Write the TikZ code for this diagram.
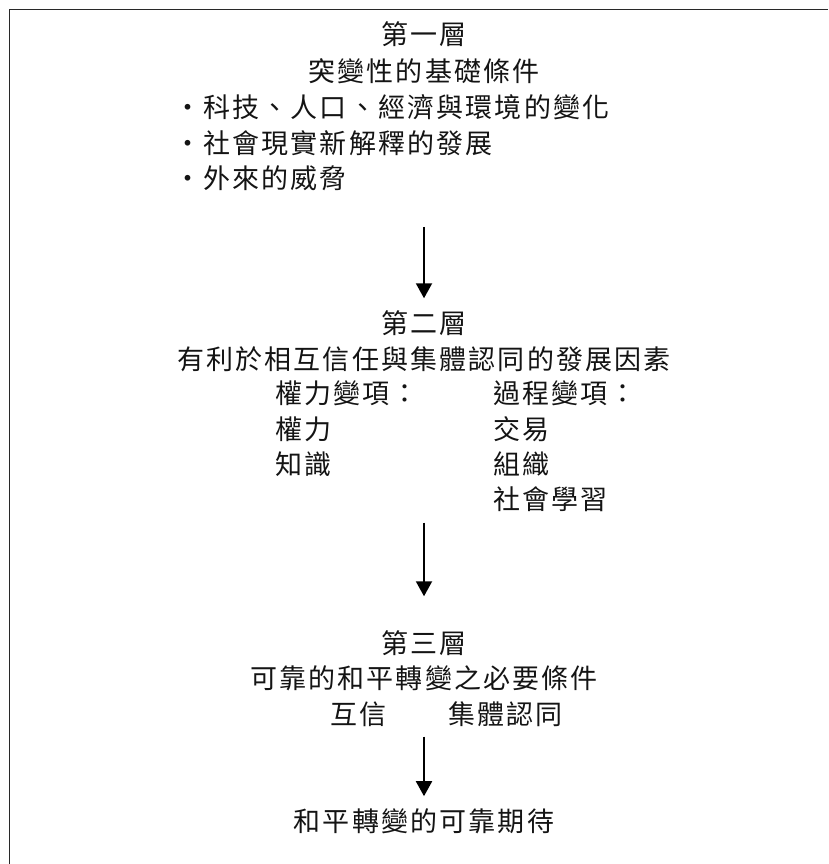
\documentclass[tikz,border=0pt]{standalone}
\usepackage{fontspec}
\newfontfamily\cjk[LetterSpace=8]{Noto Sans CJK TC}
\usepackage{tikz}
\usetikzlibrary{arrows.meta, positioning}
\definecolor{inktext}{RGB}{20, 20, 20}
\definecolor{framegray}{RGB}{40, 40, 40}
\tikzset{
  txt/.style={inner sep=0pt, text=inktext, font=\cjk\fontsize{27}{32}\selectfont},
  txtl/.style={txt, anchor=west},
  flow/.style={-{Triangle[length=15pt, width=16pt]}, line width=2pt, black}
}
\begin{document}
\begin{tikzpicture}[x=1pt, y=-1pt]
    \useasboundingbox (0,0) rectangle (828,864);
    % === Frame (open at bottom and right) ===
    \draw[framegray, line width=1.6pt] (9.5,864) -- (9.5,9.5) -- (828,9.5);

    % === Layer 1 ===
    \node[txt] (t1) at (424,34) {第一層};
    \node[txt] (t1b) at (424,71) {突變性的基礎條件};
    \node[txtl] (c1) at (174,107) {・科技、人口、經濟與環境的變化};
    \node[txtl] (c2) at (174,143) {・社會現實新解釋的發展};
    \node[txtl] (c3) at (174,178) {・外來的威脅};

    % === Layer 2 ===
    \node[txt] (t2) at (424,323) {第二層};
    \node[txt] (t2b) at (424,359) {有利於相互信任與集體認同的發展因素};
    % power variables (left column)
    \node[txtl] (p0) at (275,393) {權力變項：};
    \node[txtl] (p1) at (275,429) {權力};
    \node[txtl] (p2) at (275,464) {知識};
    % process variables (right column)
    \node[txtl] (q0) at (493,393) {過程變項：};
    \node[txtl] (q1) at (493,429) {交易};
    \node[txtl] (q2) at (493,464) {組織};
    \node[txtl] (q3) at (493,499) {社會學習};

    % === Layer 3 ===
    \node[txt] (t3) at (424,643) {第三層};
    \node[txt] (t3b) at (424,678) {可靠的和平轉變之必要條件};
    \node[txtl] (r1) at (330,714) {互信};
    \node[txtl] (r2) at (448,714) {集體認同};

    % === Outcome ===
    \node[txt] (fin) at (424,821) {和平轉變的可靠期待};

    % Arrows between layers
    \draw[flow, shorten <=36pt, shorten >=12pt] (c3.south -| t2.north) -- (t2.north);
    \draw[flow, shorten <=11pt, shorten >=34pt] (q3.south -| t3.north) -- (t3.north);
    \draw[flow, shorten <=10pt, shorten >=12pt] (r2.south -| fin.north) -- (fin.north);
\end{tikzpicture}
\end{document}
